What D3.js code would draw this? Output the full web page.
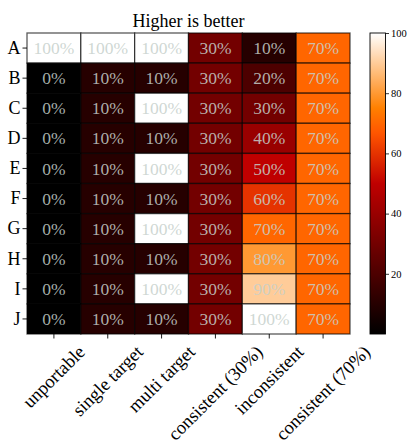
<!DOCTYPE html>
<html>
<head>
<meta charset="utf-8">
<script src="https://cdn.jsdelivr.net/npm/d3@7"></script>
<style>
  html, body { margin: 0; padding: 0; background: #fff; }
  svg { display: block; }
</style>
</head>
<body>
<svg id="chart" width="409" height="441"></svg>
<script>
// Row and column labels
const rows = ["A", "B", "C", "D", "E", "F", "G", "H", "I", "J"];
const columns = ["unportable", "single target", "multi target", "consistent (30%)", "inconsistent", "consistent (70%)"];

// Scores (percent) per column, one entry per row
const unportable      = [100, 0, 0, 0, 0, 0, 0, 0, 0, 0];
const singleTarget    = [100, 10, 10, 10, 10, 10, 10, 10, 10, 10];
const multiTarget     = [100, 10, 100, 10, 100, 10, 100, 10, 100, 10];
const consistent30    = [30, 30, 30, 30, 30, 30, 30, 30, 30, 30];
const inconsistent    = [10, 20, 30, 40, 50, 60, 70, 80, 90, 100];
const consistent70    = [70, 70, 70, 70, 70, 70, 70, 70, 70, 70];

const colorbarTicks = [20, 40, 60, 80, 100];
const chartTitle = "Higher is better";

const seriesByColumn = [unportable, singleTarget, multiTarget, consistent30, inconsistent, consistent70];

const FONT = "'Liberation Serif', 'Times New Roman', Times, serif";

const cells = [];
rows.forEach((r, i) => {
  columns.forEach((c, j) => {
    cells.push({ row: r, col: c, value: seriesByColumn[j][i] });
  });
});

// gist_heat colour map
function gistHeat(t) {
  const cl = v => Math.max(0, Math.min(1, v));
  const r = cl(1.5 * t), g = cl(2 * t - 1), b = cl(4 * t - 3);
  return d3.rgb(Math.round(r * 255), Math.round(g * 255), Math.round(b * 255)).toString();
}
const color = v => gistHeat(v / 100);

const svg = d3.select("#chart").attr("font-family", FONT);
const plotLeft = 27, plotRight = 350, plotTop = 33, plotBottom = 334;

const x = d3.scaleBand().domain(columns).range([plotLeft, plotRight]);
const y = d3.scaleBand().domain(rows).range([plotTop, plotBottom]);

// Title
svg.append("text")
  .attr("x", (plotLeft + plotRight) / 2)
  .attr("y", 27)
  .attr("text-anchor", "middle")
  .attr("font-family", FONT)
  .attr("font-size", 18)
  .attr("fill", "#000")
  .text(chartTitle);

// Cells
svg.append("g").selectAll("rect")
  .data(cells)
  .join("rect")
  .attr("x", d => x(d.col))
  .attr("y", d => y(d.row))
  .attr("width", x.bandwidth())
  .attr("height", y.bandwidth())
  .attr("fill", d => color(d.value))
  .attr("stroke", "#000")
  .attr("stroke-opacity", 0.65)
  .attr("stroke-width", 1.3);

// Cell annotations
svg.append("g").selectAll("text")
  .data(cells)
  .join("text")
  .attr("x", d => x(d.col) + x.bandwidth() / 2)
  .attr("y", d => y(d.row) + y.bandwidth() / 2)
  .attr("dy", "0.35em")
  .attr("text-anchor", "middle")
  .attr("font-family", FONT)
  .attr("font-size", 17.5)
  .attr("fill", "#c6d0cb")
  .attr("fill-opacity", 0.85)
  .text(d => d.value + "%");

// Row axis
const yAxis = svg.append("g")
  .attr("transform", `translate(${plotLeft},0)`)
  .call(d3.axisLeft(y).tickSize(4.5).tickPadding(2));
yAxis.attr("font-family", FONT);
yAxis.select(".domain").remove();
yAxis.selectAll("line").attr("stroke", "#000").attr("stroke-width", 0.9);
yAxis.selectAll("text")
  .attr("font-size", 18)
  .attr("fill", "#000")
  .attr("font-family", FONT);

// Column axis
const xAxis = svg.append("g")
  .attr("transform", `translate(0,${plotBottom})`)
  .call(d3.axisBottom(x).tickSize(4.5).tickFormat(""));
xAxis.select(".domain").remove();
xAxis.selectAll("line").attr("stroke", "#000").attr("stroke-width", 0.9);

// Rotated column labels, bounding box centred under each tick
const labelTop = plotBottom + 8;
const labelSize = 18.5;
const labels = svg.append("g").selectAll("text")
  .data(columns)
  .join("text")
  .attr("font-family", FONT)
  .attr("font-size", labelSize)
  .attr("fill", "#000")
  .attr("text-anchor", "middle")
  .attr("dominant-baseline", "central")
  .text(d => d);
labels.each(function (d) {
  const w = this.getComputedTextLength();
  const h = labelSize * 1.05;
  const cy = labelTop + (w + h) / (2 * Math.SQRT2);
  d3.select(this).attr("transform", `translate(${x(d) + x.bandwidth() / 2},${cy}) rotate(-45)`);
});

// Colour bar
const cbLeft = 370, cbWidth = 15.5;
const cbScale = d3.scaleLinear().domain([0, 100]).range([plotBottom, plotTop]);
const defs = svg.append("defs");
const grad = defs.append("linearGradient")
  .attr("id", "cbGrad")
  .attr("x1", 0).attr("y1", 1).attr("x2", 0).attr("y2", 0);
d3.range(0, 101).forEach(v => {
  grad.append("stop").attr("offset", v / 100).attr("stop-color", color(v));
});
svg.append("rect")
  .attr("x", cbLeft)
  .attr("y", plotTop)
  .attr("width", cbWidth)
  .attr("height", plotBottom - plotTop)
  .attr("fill", "url(#cbGrad)")
  .attr("stroke", "#000")
  .attr("stroke-width", 0.9);

const cbAxis = svg.append("g")
  .attr("transform", `translate(${cbLeft + cbWidth},0)`)
  .call(d3.axisRight(cbScale).tickValues(colorbarTicks).tickSize(3.5).tickPadding(2));
cbAxis.attr("font-family", FONT);
cbAxis.select(".domain").remove();
cbAxis.selectAll("line").attr("stroke", "#000").attr("stroke-width", 0.8);
cbAxis.selectAll("text")
  .attr("font-size", 10.5)
  .attr("fill", "#000")
  .attr("font-family", FONT);
</script>
</body>
</html>
